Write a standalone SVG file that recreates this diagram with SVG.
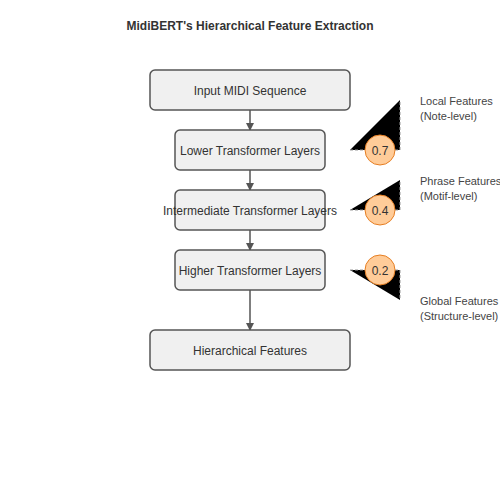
<svg xmlns="http://www.w3.org/2000/svg" width="500" height="500" viewBox="0 0 500 500">
<defs>
<style>
.box{fill:#f0f0f0;stroke:#555;stroke-width:1.5}
.t{font-family:"Liberation Sans",Arial,sans-serif;font-size:12px;fill:#333;text-anchor:middle}
.lab{font-family:"Liberation Sans",Arial,sans-serif;font-size:11px;fill:#444}
.conn{stroke:#555;stroke-width:1.5;fill:none}
.att{fill:#000;stroke:#999;stroke-width:1;stroke-dasharray:3,2}
.w{fill:#ffcc99;stroke:#e67e22;stroke-width:1}
.wt{font-family:"Liberation Sans",Arial,sans-serif;font-size:12px;fill:#333;text-anchor:middle}
</style>
<marker id="arr" markerWidth="8" markerHeight="8" refX="7" refY="4" orient="auto" markerUnits="userSpaceOnUse">
<path d="M0,0 L8,4 L0,8 Z" fill="#555"/>
</marker>
</defs>
<rect width="500" height="500" fill="#fff"/>
<text x="250" y="29.5" font-family="Liberation Sans,Arial,sans-serif" font-size="12" font-weight="bold" fill="#333" text-anchor="middle">MidiBERT's Hierarchical Feature Extraction</text>
<g id="connectors">
<line class="conn" x1="250" y1="110" x2="250" y2="130" marker-end="url(#arr)"/>
<line class="conn" x1="250" y1="170" x2="250" y2="190" marker-end="url(#arr)"/>
<line class="conn" x1="250" y1="230" x2="250" y2="250" marker-end="url(#arr)"/>
<line class="conn" x1="250" y1="290" x2="250" y2="330" marker-end="url(#arr)"/>
<path class="att" d="M350,150 L400,150 L400,100"/>
<path class="att" d="M350,210 L400,210 L400,180"/>
<path class="att" d="M350,270 L400,270 L400,300"/>
</g>
<g id="input"><rect class="box" x="150" y="70" width="200" height="40" rx="5"/><text class="t" x="250" y="94.5">Input MIDI Sequence</text></g>
<g id="lower"><rect class="box" x="175" y="130" width="150" height="40" rx="5"/><text class="t" x="250" y="154.5">Lower Transformer Layers</text></g>
<g id="intermediate"><rect class="box" x="175" y="190" width="150" height="40" rx="5"/><text class="t" x="250" y="214.5">Intermediate Transformer Layers</text></g>
<g id="higher"><rect class="box" x="175" y="250" width="150" height="40" rx="5"/><text class="t" x="250" y="274.5">Higher Transformer Layers</text></g>
<g id="output"><rect class="box" x="150" y="330" width="200" height="40" rx="5"/><text class="t" x="250" y="354.5">Hierarchical Features</text></g>
<g id="w1"><circle class="w" cx="380" cy="150" r="15"/><text class="wt" x="380" y="154.5">0.7</text></g>
<g id="w2"><circle class="w" cx="380" cy="210" r="15"/><text class="wt" x="380" y="214.5">0.4</text></g>
<g id="w3"><circle class="w" cx="380" cy="270" r="15"/><text class="wt" x="380" y="274.5">0.2</text></g>
<g id="local"><text class="lab" x="420" y="105">Local Features</text><text class="lab" x="420" y="120">(Note-level)</text></g>
<g id="phrase"><text class="lab" x="420" y="185">Phrase Features</text><text class="lab" x="420" y="200">(Motif-level)</text></g>
<g id="global"><text class="lab" x="420" y="305">Global Features</text><text class="lab" x="420" y="320">(Structure-level)</text></g>
</svg>
